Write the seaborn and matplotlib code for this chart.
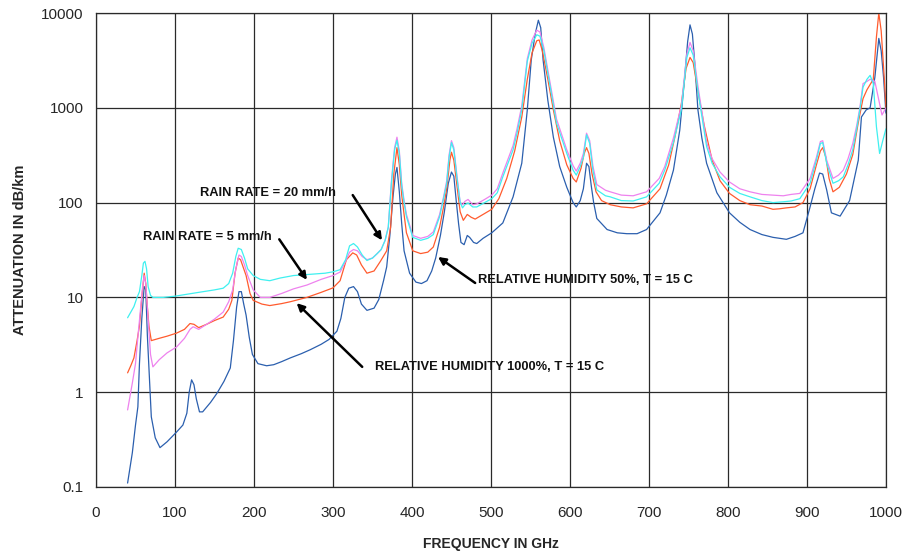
import matplotlib
matplotlib.use("Agg")
import matplotlib.pyplot as plt
import numpy as np
import pandas as pd
import seaborn as sns

# --- data (frequency in GHz, attenuation in dB/km) ---
rh50_freq = [40, 46, 50, 53, 55, 58, 61, 63, 65, 67, 70, 75, 81, 90, 102, 110, 115, 118, 121, 124,
             127, 131, 135, 145, 153, 162, 170, 174, 178, 181, 184, 187, 190, 194, 198, 205, 216, 225,
             235, 246, 260, 271, 285, 295, 305, 310, 315, 320, 326, 331, 336, 343, 352, 358, 364, 368,
             372, 376, 379, 381, 384, 387, 390, 397, 405, 412, 419, 425, 430, 436, 441, 446, 450, 453,
             456, 459, 462, 466, 470, 473, 478, 482, 490, 501, 515, 528, 539, 546, 551, 556, 560, 563,
             566, 572, 579, 587, 596, 604, 608, 613, 617, 621, 624, 627, 630, 634, 647, 660, 672, 685,
             697, 714, 722, 731, 739, 745, 749, 752, 755, 758, 762, 767, 773, 786, 802, 815, 828, 843,
             857, 865, 874, 885, 895, 904, 910, 916, 920, 925, 931, 942, 954, 960, 965, 969, 975, 980,
             986, 991, 994, 997, 1000]
rh50_att = [0.11, 0.23, 0.45, 0.7, 2.0, 6, 13, 12, 4, 1.8, 0.55, 0.33, 0.26, 0.3, 0.38, 0.45, 0.6, 1.0,
            1.35, 1.2, 0.85, 0.62, 0.62, 0.78, 0.97, 1.3, 1.8, 3.5, 7.9, 11.5, 11.5, 8.5, 6.5, 3.8, 2.5,
            2.0, 1.9, 1.95, 2.1, 2.3, 2.55, 2.8, 3.2, 3.6, 4.4, 6, 10, 12.5, 13, 11.5, 8.5, 7.3, 7.7,
            9.5, 15, 21, 45, 115, 200, 235, 130, 60, 31, 18, 14.5, 14, 15, 19, 26, 45, 80, 160, 210,
            190, 105, 60, 38, 36, 45, 43, 38, 37, 42, 48, 61, 115, 260, 950, 3200, 6000, 8400, 7000,
            3200, 1200, 490, 240, 145, 100, 90, 105, 140, 260, 240, 150, 100, 68, 52, 48, 47, 47, 52,
            78, 120, 220, 580, 2000, 5000, 7500, 6000, 3000, 950, 480, 260, 127, 78, 62, 52, 46, 43,
            42, 41, 44, 48, 90, 140, 205, 200, 136, 78, 72, 105, 180, 280, 800, 950, 1000, 2100, 5400,
            4000, 2100, 880]

rh100_freq = [40, 44, 48, 52, 55, 58, 61, 63, 65, 67, 70, 80, 90, 102, 112, 119, 124, 130, 140, 150,
              161, 168, 172, 176, 180, 183, 187, 190, 195, 199, 210, 220, 235, 246, 267, 285, 300, 309,
              317, 325, 330, 336, 343, 352, 360, 368, 373, 377, 381, 384, 387, 390, 393, 401, 411, 420,
              427, 435, 440, 444, 448, 450, 453, 457, 461, 465, 470, 475, 480, 490, 501, 510, 520, 530,
              539, 546, 552, 558, 561, 565, 572, 579, 587, 596, 604, 608, 614, 618, 621, 624, 628, 633,
              640, 651, 665, 680, 697, 714, 725, 733, 741, 747, 752, 756, 762, 770, 780, 790, 802, 815,
              828, 843, 857, 865, 874, 885, 895, 904, 912, 917, 920, 924, 928, 933, 941, 950, 958, 965,
              971, 976, 984, 988, 991, 994, 998, 1000]
rh100_att = [1.6, 1.9, 2.3, 3.5, 5, 10, 18, 14, 8, 5, 3.5, 3.7, 3.9, 4.2, 4.6, 5.3, 5.2, 4.8, 5.2, 5.7,
             6.2, 7.5, 9.3, 18, 26, 25, 20, 17, 11, 9.3, 8.5, 8.2, 8.6, 9, 10, 11.3, 12.6, 15, 25, 29.5,
             28, 22, 18, 19, 24, 31, 55, 200, 380, 250, 120, 75, 48, 31, 29, 30, 34, 55, 90, 140, 280,
             340, 280, 150, 80, 65, 75, 70, 67, 75, 85, 110, 180, 350, 800, 2000, 3800, 5100, 5200,
             4000, 2000, 950, 450, 250, 180, 165, 230, 330, 380, 330, 200, 130, 105, 95, 90, 88, 97,
             140, 250, 500, 1100, 2600, 3400, 3000, 1500, 650, 280, 170, 125, 105, 95, 92, 85, 86, 88,
             90, 100, 140, 250, 350, 380, 300, 180, 130, 145, 200, 320, 700, 1250, 1550, 2000, 5600,
             10000, 6500, 2000, 1000]

rain20_freq = [40, 44, 48, 52, 55, 58, 60, 62, 64, 66, 69, 72, 85, 100, 115, 130, 150, 161, 168, 173,
               177, 180, 184, 188, 192, 199, 208, 220, 233, 250, 270, 290, 300, 309, 316, 321, 326, 331,
               337, 343, 350, 356, 361, 366, 370, 374, 378, 381, 384, 387, 390, 393, 401, 411, 420, 427,
               435, 440, 444, 447, 450, 453, 457, 461, 464, 467, 471, 477, 482, 492, 501, 508, 515, 520,
               528, 533, 539, 546, 552, 558, 562, 567, 575, 583, 596, 604, 608, 613, 617, 621, 625, 629,
               634, 645, 651, 665, 680, 697, 713, 720, 731, 741, 748, 752, 756, 762, 773, 780, 790, 802,
               815, 828, 843, 857, 870, 880, 891, 904, 912, 917, 920, 925, 933, 940, 946, 952, 958, 963,
               967, 971, 976, 980, 984, 988, 992, 996, 1000]
rain20_att = [6.1, 7, 8, 10, 11.5, 17, 23, 24, 20, 13, 10.5, 10, 10, 10.3, 10.8, 11.3, 12, 12.5, 14, 18,
              27, 33, 32, 26, 20, 17, 15.5, 15, 16, 17, 17.5, 18, 18.6, 19.6, 25, 35, 37, 34, 28, 24.5,
              26, 29, 32, 40, 55, 160, 360, 455, 330, 150, 100, 71, 43, 40, 42, 46, 71, 110, 160, 300,
              430, 360, 180, 100, 88, 95, 99, 90, 90, 100, 110, 127, 187, 240, 360, 540, 950, 3100, 4800,
              5900, 5700, 4000, 1650, 690, 330, 220, 195, 240, 300, 520, 420, 220, 136, 118, 115, 105,
              104, 115, 160, 220, 430, 950, 3400, 4300, 3600, 1500, 390, 260, 187, 145, 125, 115, 105,
              100, 102, 104, 110, 160, 280, 420, 430, 260, 160, 170, 187, 250, 360, 600, 950, 1650, 2000,
              2200, 1800, 630, 330, 450, 600]

rain5_freq = [40, 43, 46, 50, 53, 56, 59, 61, 63, 66, 69, 72, 80, 90, 102, 112, 119, 123, 130, 140, 150,
              161, 168, 173, 177, 181, 184, 188, 192, 199, 208, 220, 235, 250, 267, 285, 300, 309, 316,
              321, 326, 331, 337, 343, 350, 356, 361, 366, 370, 374, 378, 381, 384, 387, 390, 393, 401,
              411, 420, 427, 435, 440, 444, 447, 450, 453, 457, 461, 464, 467, 471, 477, 482, 492, 501,
              508, 515, 520, 528, 533, 539, 546, 552, 558, 562, 567, 575, 583, 596, 604, 608, 613, 617,
              621, 625, 629, 634, 645, 651, 665, 680, 697, 713, 720, 731, 741, 748, 752, 756, 762, 773,
              780, 790, 802, 815, 828, 843, 857, 870, 880, 891, 904, 912, 917, 920, 925, 933, 940, 946,
              952, 958, 963, 967, 971, 976, 980, 986, 992, 995, 1000]
rain5_att = [0.65, 0.9, 1.25, 2, 3.8, 7, 13, 17, 14, 6, 2.5, 1.85, 2.2, 2.6, 3.0, 3.7, 4.6, 4.9, 4.6,
             5.2, 5.9, 7, 9, 12, 20, 28, 27, 22, 17, 12, 10, 10, 11, 12.3, 13.5, 15.5, 17, 18.5, 24, 30,
             32, 31, 27, 25, 26, 29, 32, 40, 55, 170, 380, 490, 350, 160, 105, 75, 45, 42, 44, 49, 75,
             115, 170, 320, 450, 380, 190, 100, 95, 103, 108, 95, 97, 108, 120, 140, 205, 265, 400, 600,
             1050, 3300, 5200, 6600, 6300, 4300, 1800, 760, 360, 245, 215, 260, 330, 540, 450, 245, 155,
             135, 130, 120, 118, 130, 180, 240, 480, 1050, 3700, 4900, 4000, 1700, 430, 290, 210, 165,
             140, 130, 122, 120, 118, 122, 125, 180, 300, 440, 450, 280, 180, 195, 220, 290, 420, 650,
             1000, 1800, 1900, 2000, 1900, 1100, 840, 1000]

x_ticks = [0, 100, 200, 300, 400, 500, 600, 700, 800, 900, 1000]
y_ticks = [0.1, 1, 10, 100, 1000, 10000]
y_tick_labels = ["0.1", "1", "10", "100", "1000", "10000"]

series = [
    (rh50_freq, rh50_att, "#2b5fae"),
    (rh100_freq, rh100_att, "#ff5b2e"),
    (rain5_freq, rain5_att, "#ee82ee"),
    (rain20_freq, rain20_att, "#3ff0f0"),
]

sns.set_style("white")
plt.rcParams["font.family"] = ["Liberation Sans", "DejaVu Sans"]

fig, ax = plt.subplots(figsize=(9.04, 5.52), dpi=100)
fig.subplots_adjust(left=0.1062, right=0.980, bottom=0.1178, top=0.9764)

for freq, att, color in series:
    df = pd.DataFrame({"freq": freq, "att": att})
    sns.lineplot(data=df, x="freq", y="att", ax=ax, color=color, linewidth=0.9,
                 estimator=None, sort=False)

ax.set_yscale("log")
ax.set_xlim(0, 1000)
ax.set_ylim(0.1, 10000)
ax.set_xticks(x_ticks)
ax.set_xticklabels([str(t) for t in x_ticks])
ax.set_yticks(y_ticks)
ax.set_yticklabels(y_tick_labels)
ax.minorticks_off()
ax.grid(True, which="major", color="#2a2a2a", linewidth=0.9)
ax.tick_params(axis="both", direction="out", length=6, width=0.9, color="#222222",
               labelsize=11)
ax.tick_params(axis="y", pad=3)
ax.tick_params(axis="x", pad=8)
for side in ["left", "bottom", "top", "right"]:
    ax.spines[side].set_visible(True)
    ax.spines[side].set_color("#2a2a2a")
    ax.spines[side].set_linewidth(0.9)

ax.set_xlabel("FREQUENCY IN GHz", fontsize=10, fontweight="bold", labelpad=12)
ax.set_ylabel("ATTENUATION IN dB/km", fontsize=10.5, fontweight="bold", labelpad=10)

# annotations: label position, arrow tail, arrow head (data coords)
notes = [
    ("RAIN RATE = 20 mm/h", (131.6, 126), (325, 120), (362, 40)),
    ("RAIN RATE = 5 mm/h", (59.5, 43.4), (232, 41), (267, 15.3)),
    ("RELATIVE HUMIDITY 50%, T = 15 C", (483.5, 15.3), (480, 14.2), (433, 26.7)),
    ("RELATIVE HUMIDITY 1000%, T = 15 C", (353, 1.85), (337, 1.85), (254, 8.7)),
]
for label, text_pos, tail, head in notes:
    ax.text(text_pos[0], text_pos[1], label, fontsize=9.3, fontweight="bold",
            ha="left", va="center", color="#111111")
    ax.annotate("", xy=head, xytext=tail,
                arrowprops=dict(arrowstyle="-|>", color="black", lw=1.8,
                                mutation_scale=11, shrinkA=0, shrinkB=0))

fig.savefig("out.png", dpi=100)
